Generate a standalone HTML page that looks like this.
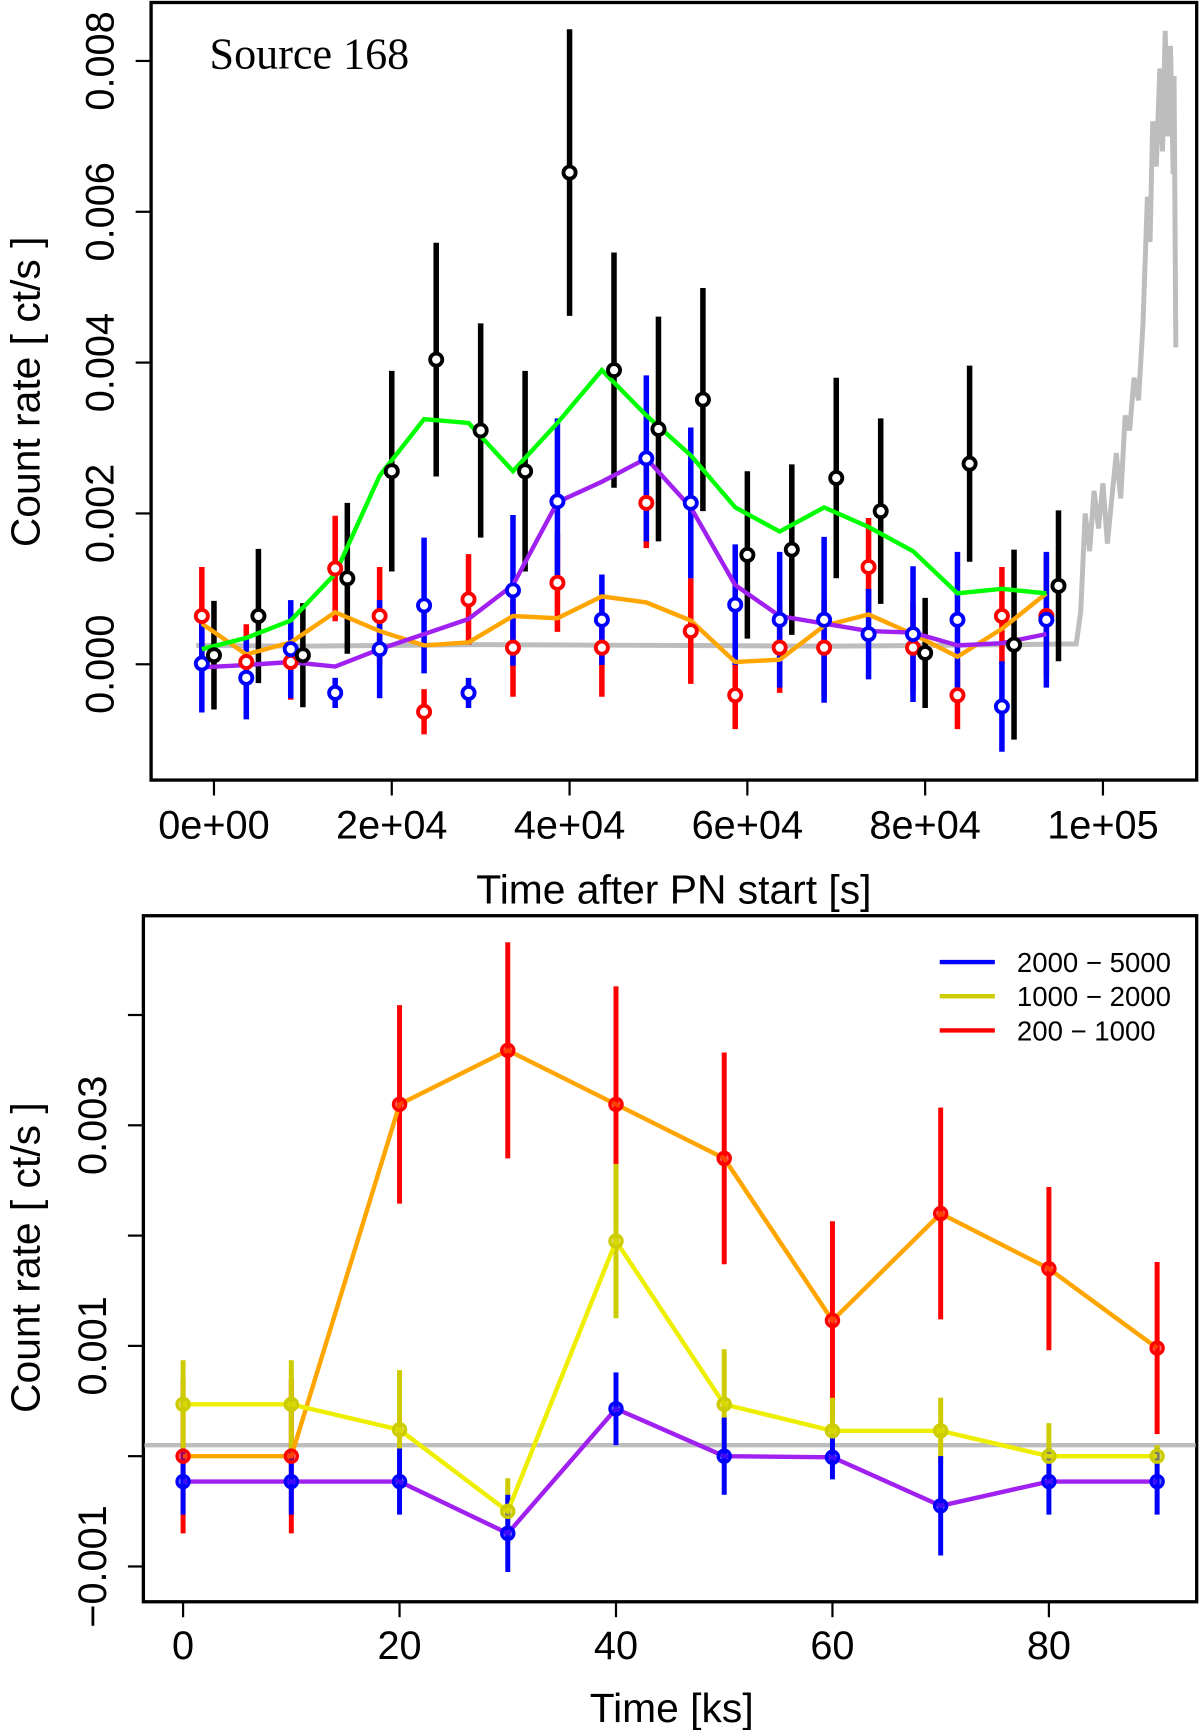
<!DOCTYPE html>
<html><head><meta charset="utf-8"><style>
html,body{margin:0;padding:0;background:#fff}
svg{display:block}
text{font-family:"Liberation Sans",sans-serif;fill:#000}
</style></head><body>
<svg id="chart" width="1200" height="1730" viewBox="0 0 1088 1568" xmlns="http://www.w3.org/2000/svg">
<g id="top"></g>
<g id="bot"></g>
</svg>
<script>
// ---- Top panel data (time index k*5000 s, count rate ct/s) ----
const topTimes = [0,5000,10000,15000,20000,25000,30000,35000,40000,45000,50000,55000,60000,65000,70000,75000,80000,85000,90000,95000];
const blackVals = [0.00012,0.00064,0.00012,0.00114,0.00256,0.00404,0.0031,0.00256,0.00652,0.0039,0.00312,0.00351,0.00145,0.00152,0.00247,0.00203,0.00015,0.00266,0.00026,0.00104];
const blackErr = [0.00072,0.00089,0.00069,0.001,0.00133,0.00155,0.00142,0.00133,0.0019,0.00156,0.00149,0.00148,0.00111,0.00113,0.00133,0.00123,0.00073,0.0013,0.00126,0.001];
const redVals = [0.00064,0.00003,0.00003,0.00127,0.00064,-0.00063,0.00086,0.00022,0.00108,0.00022,0.00214,0.00044,-0.00041,0.00022,0.00022,0.00129,0.00022,-0.00041,0.00064,0.00064];
const redErr = [0.00065,0.0005,0.0005,0.0007,0.00065,0.0003,0.0006,0.00065,0.00065,0.00065,0.0006,0.0007,0.00045,0.0006,0.00065,0.00065,0.0006,0.00045,0.00065,0.0008];
const blueVals = [0.00001,-0.00018,0.0002,-0.00038,0.0002,0.00078,-0.00038,0.00098,0.00216,0.00059,0.00273,0.00214,0.00079,0.00059,0.00059,0.0004,0.0004,0.00059,-0.00056,0.00059];
const blueErr = [0.00065,0.00055,0.00065,0.0002,0.00065,0.0009,0.0002,0.001,0.0011,0.0006,0.0011,0.001,0.0008,0.0009,0.0011,0.0006,0.0009,0.0009,0.0006,0.0009];
const greenVals = [0.0002,0.00035,0.00058,0.0012,0.0025,0.00325,0.0032,0.00256,0.0032,0.0039,0.0033,0.00277,0.00208,0.00176,0.00208,0.00182,0.0015,0.00094,0.001,0.00094];
const purpleVals = [-0.00004,-0.00001,0.00003,-0.00003,0.0002,0.0004,0.0006,0.00105,0.00215,0.00242,0.00273,0.00208,0.00105,0.00064,0.00054,0.00044,0.00042,0.00025,0.00028,0.0004];
const orangeVals = [0.00054,0.00013,0.00029,0.00069,0.00044,0.00025,0.00029,0.00064,0.00061,0.0009,0.00082,0.00058,0.00003,0.00006,0.00051,0.00066,0.0004,0.0001,0.00047,0.00094];
const grayTimes = [-2000,10000,30000,50000,70000,90000,97000,97500,98000,98500,99000,99500,100000,100500,101000,101500,102000,102500,103000,103500,104000,104500,105000,105300,105600,106000,106400,106700,107000,107300,107600,107900,108000,108200];
const grayVals = [0.00025,0.00024,0.00026,0.00025,0.00024,0.00026,0.00027,0.0007,0.002,0.0015,0.0023,0.0018,0.0024,0.0016,0.0022,0.0028,0.0022,0.0033,0.0031,0.0038,0.0035,0.0045,0.0062,0.0056,0.0072,0.0066,0.0079,0.0068,0.0084,0.0070,0.0082,0.0065,0.0078,0.0042];
const topXTicks = [0,20000,40000,60000,80000,100000];
const topXLabels = ["0e+00","2e+04","4e+04","6e+04","8e+04","1e+05"];
const topYTicks = [0,0.002,0.004,0.006,0.008];
const topYLabels = ["0.000","0.002","0.004","0.006","0.008"];

// ---- Bottom panel data (ks, ct/s) ----
const botTimes = [0,10,20,30,40,50,60,70,80,90];
const b200Vals = [0,0,0.00319,0.00368,0.00319,0.0027,0.00123,0.0022,0.0017,0.00098];
const b200Err = [0.0007,0.0007,0.0009,0.00098,0.00107,0.00096,0.0009,0.00096,0.00074,0.00078];
const b1000Vals = [0.00047,0.00047,0.00024,-0.0005,0.00195,0.00047,0.00023,0.00023,0,0];
const b1000Err = [0.0004,0.0004,0.00054,0.0003,0.0007,0.0005,0.0003,0.0003,0.0003,0.0001];
const b2000Vals = [-0.00023,-0.00023,-0.00023,-0.0007,0.00043,0,-0.00001,-0.00045,-0.00023,-0.00023];
const b2000Err = [0.0003,0.0003,0.0003,0.00035,0.00033,0.00035,0.0002,0.00045,0.0003,0.0003];
const botBackground = [0.0001,0.0001];
const botXTicks = [0,20,40,60,80];
const botXLabels = ["0","20","40","60","80"];
const botYTicks = [-0.001,0,0.001,0.002,0.003,0.004];
const botYLabelVals = [-0.001,0.001,0.003];
const botYLabels = ["\u22120.001","0.001","0.003"];
const legendLabels = ["2000 \u2212 5000","1000 \u2212 2000","200 \u2212 1000"];

const NS="http://www.w3.org/2000/svg";
function mk(parent,tag,attrs,txt){const e=document.createElementNS(NS,tag);for(const k in attrs)e.setAttribute(k,attrs[k]);if(txt!==undefined)e.textContent=txt;parent.appendChild(e);return e;}

// ===== TOP =====
const T=document.getElementById('top');
const tx=t=>194+(t/100000)*806;
const ty=v=>602-(v/0.002)*136.75;
let el;
el=mk(T,'rect',{x:137,y:2,width:948,height:705,fill:'none',stroke:'#000','stroke-width':3});


el=mk(T,'polyline',{points:grayTimes.map((t,i)=>tx(t)+','+ty(grayVals[i])).join(' '),fill:'none',stroke:'#bdbdbd','stroke-width':4.5});


const off=-11/806*100000;
function errSeries(g,times,vals,errs,color,shift,name){
  times.forEach((t,i)=>{
    const x=tx(t+shift);
    const b=mk(g,'line',{x1:x,x2:x,y1:ty(vals[i]+errs[i]),y2:ty(vals[i]-errs[i]),stroke:color,'stroke-width':5});
    
    
  });
}
function ptSeries(g,times,vals,color,shift,name){
  times.forEach((t,i)=>{
    const c=mk(g,'circle',{cx:tx(t+shift),cy:ty(vals[i]),r:5.5,fill:'#fff',stroke:color,'stroke-width':3.5});
    
    
  });
}
function lineSeries(g,times,vals,color,shift,name){
  const p=mk(g,'polyline',{points:times.map((t,i)=>tx(t+shift)+','+ty(vals[i])).join(' '),fill:'none',stroke:color,'stroke-width':4});
  
  
}
errSeries(T,topTimes,redVals,redErr,'#ff0000',off,'red-band');
errSeries(T,topTimes,blueVals,blueErr,'#0000ff',off,'blue-band');
errSeries(T,topTimes,blackVals,blackErr,'#000',0,'total-band');
lineSeries(T,topTimes,orangeVals,'#ffa500',off,'orange-smooth-line');
lineSeries(T,topTimes,purpleVals,'#a020f0',off,'purple-smooth-line');
lineSeries(T,topTimes,greenVals,'#00ff00',off,'green-smooth-line');
ptSeries(T,topTimes,redVals,'#ff0000',off,'red-band');
ptSeries(T,topTimes,blueVals,'#0000ff',off,'blue-band');
ptSeries(T,topTimes,blackVals,'#000',0,'total-band');
topXTicks.forEach((t,i)=>{
  const tk=mk(T,'line',{x1:tx(t),x2:tx(t),y1:707,y2:721,stroke:'#000','stroke-width':2});
  
  
  const lb=mk(T,'text',{x:tx(t),y:760,'font-size':36,'text-anchor':'middle'},topXLabels[i]);
  
  
});
topYTicks.forEach((v,i)=>{
  const tk=mk(T,'line',{x1:123,x2:137,y1:ty(v),y2:ty(v),stroke:'#000','stroke-width':2});
  
  
  const lb=mk(T,'text',{x:0,y:0,'font-size':36,'text-anchor':'middle',transform:`translate(103,${ty(v)}) rotate(-90)`},topYLabels[i]);
  
  
});
el=mk(T,'text',{x:611,y:819,'font-size':37,'text-anchor':'middle'},'Time after PN start [s]');


el=mk(T,'text',{x:0,y:0,'font-size':37,'text-anchor':'middle',transform:'translate(36,355) rotate(-90)'},'Count rate [ ct/s ]');


el=mk(T,'text',{x:190,y:62,'font-size':40,style:'font-family:"Liberation Serif",serif'},'Source 168');



// ===== BOTTOM =====
const B=document.getElementById('bot');
const bx=t=>166+t*9.8125;
const by=v=>1320-v*100000;
el=mk(B,'rect',{x:130,y:830,width:955,height:622,fill:'none',stroke:'#000','stroke-width':3});


el=mk(B,'line',{x1:131,x2:1084,y1:by(botBackground[0]),y2:by(botBackground[1]),stroke:'#bdbdbd','stroke-width':4});


function bErr(vals,errs,color,name){
  botTimes.forEach((t,i)=>{
    const b=mk(B,'line',{x1:bx(t),x2:bx(t),y1:by(vals[i]+errs[i]),y2:by(vals[i]-errs[i]),stroke:color,'stroke-width':4.5});
    
    
  });
}
function bLine(vals,color,name){
  const p=mk(B,'polyline',{points:botTimes.map((t,i)=>bx(t)+','+by(vals[i])).join(' '),fill:'none',stroke:color,'stroke-width':4});
  
  
}
function bPts(vals,color,name){
  botTimes.forEach((t,i)=>{
    const c=mk(B,'circle',{cx:bx(t),cy:by(vals[i]),r:5.5,fill:color,stroke:color,'stroke-width':3,'fill-opacity':0.6});
    
    
  });
}
bErr(b200Vals,b200Err,'#ff0000','band-200-1000');
bErr(b1000Vals,b1000Err,'#cccc00','band-1000-2000');
bErr(b2000Vals,b2000Err,'#0000ff','band-2000-5000');
bLine(b200Vals,'#ffa500','band-200-1000-line');
bLine(b1000Vals,'#eeee00','band-1000-2000-line');
bLine(b2000Vals,'#a020f0','band-2000-5000-line');
bPts(b200Vals,'#ff0000','band-200-1000');
bPts(b1000Vals,'#cccc00','band-1000-2000');
bPts(b2000Vals,'#0000ff','band-2000-5000');
botXTicks.forEach((t,i)=>{
  const tk=mk(B,'line',{x1:bx(t),x2:bx(t),y1:1452,y2:1466,stroke:'#000','stroke-width':2});
  
  
  const lb=mk(B,'text',{x:bx(t),y:1504,'font-size':36,'text-anchor':'middle'},botXLabels[i]);
  
  
});
botYTicks.forEach(v=>{
  const tk=mk(B,'line',{x1:116,x2:130,y1:by(v),y2:by(v),stroke:'#000','stroke-width':2});
  
  
});
botYLabelVals.forEach((v,i)=>{
  const lb=mk(B,'text',{x:0,y:0,'font-size':36,'text-anchor':'middle',transform:`translate(96,${by(v)}) rotate(-90)`},botYLabels[i]);
  
  
});
el=mk(B,'text',{x:609,y:1561,'font-size':37,'text-anchor':'middle'},'Time [ks]');


el=mk(B,'text',{x:0,y:0,'font-size':37,'text-anchor':'middle',transform:'translate(36,1140) rotate(-90)'},'Count rate [ ct/s ]');


const legCols=['#0000ff','#cccc00','#ff0000'];
legendLabels.forEach((s,i)=>{
  const y=872+i*31;
  const g=mk(B,'g',{});
  
  
  mk(g,'line',{x1:852,x2:902,y1:y,y2:y,stroke:legCols[i],'stroke-width':4});
  mk(g,'text',{x:922,y:y+9,'font-size':25},s);
});
</script>
</body></html>
